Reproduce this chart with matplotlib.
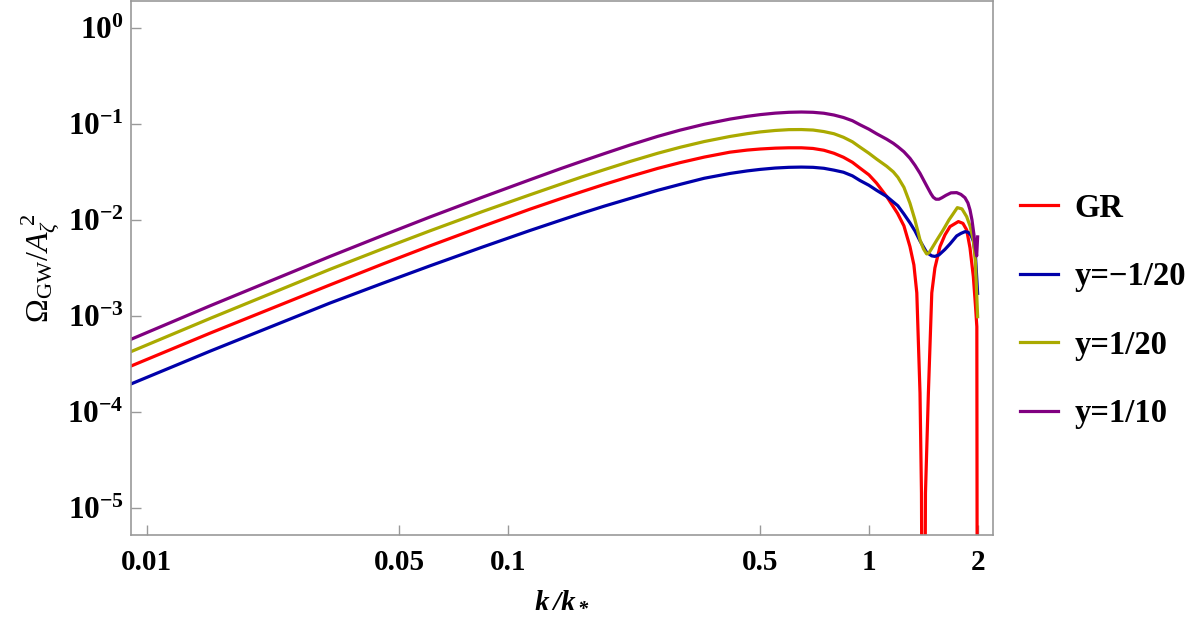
import matplotlib
matplotlib.use("Agg")
from matplotlib import pyplot as plt
from matplotlib import ticker
import numpy as np

plt.rcParams['font.family'] = ['Liberation Serif', 'DejaVu Serif']
plt.rcParams['mathtext.fontset'] = 'custom'
plt.rcParams['mathtext.rm'] = 'Liberation Serif'
plt.rcParams['mathtext.it'] = 'Liberation Serif:italic'
plt.rcParams['mathtext.bf'] = 'Liberation Serif:bold'
plt.rcParams['mathtext.bfit'] = 'Liberation Serif:italic:bold'

# smooth part, shared k grid
k_low = [0.00903, 0.015, 0.0321, 0.045, 0.0608, 0.085, 0.115, 0.14, 0.16, 0.185, 0.218,
         0.26, 0.3, 0.35, 0.412, 0.46, 0.5, 0.55, 0.6, 0.65, 0.7, 0.75, 0.8, 0.85, 0.9, 0.944]

gr_low = [3.01e-4, 6.65e-4, 2.10e-3, 3.47e-3, 5.36e-3, 8.55e-3, 1.29e-2, 1.66e-2, 1.96e-2,
          2.34e-2, 2.83e-2, 3.43e-2, 3.94e-2, 4.50e-2, 5.06e-2, 5.32e-2, 5.46e-2, 5.57e-2,
          5.62e-2, 5.62e-2, 5.53e-2, 5.30e-2, 4.93e-2, 4.48e-2, 3.97e-2, 3.46e-2]
neg20_low = [1.96e-4, 4.32e-4, 1.36e-3, 2.19e-3, 3.32e-3, 5.21e-3, 7.74e-3, 9.91e-3, 1.17e-2,
             1.39e-2, 1.67e-2, 2.03e-2, 2.34e-2, 2.71e-2, 3.04e-2, 3.23e-2, 3.35e-2, 3.46e-2,
             3.52e-2, 3.54e-2, 3.52e-2, 3.44e-2, 3.29e-2, 3.13e-2, 2.87e-2, 2.57e-2]
pos20_low = [4.25e-4, 9.46e-4, 3.05e-3, 5.00e-3, 7.68e-3, 1.22e-2, 1.82e-2, 2.35e-2, 2.79e-2,
             3.33e-2, 4.05e-2, 4.93e-2, 5.69e-2, 6.53e-2, 7.37e-2, 7.88e-2, 8.22e-2, 8.51e-2,
             8.68e-2, 8.70e-2, 8.60e-2, 8.29e-2, 7.87e-2, 7.23e-2, 6.49e-2, 5.72e-2]
pos10_low = [5.71e-4, 1.28e-3, 4.15e-3, 6.88e-3, 1.07e-2, 1.72e-2, 2.61e-2, 3.41e-2, 4.06e-2,
             4.89e-2, 6.01e-2, 7.39e-2, 8.58e-2, 9.88e-2, 1.117e-1, 1.194e-1, 1.244e-1,
             1.289e-1, 1.315e-1, 1.324e-1, 1.315e-1, 1.286e-1, 1.232e-1, 1.161e-1, 1.075e-1,
             9.77e-2]

# oscillating tails, own k grids
gr_k = [1.0, 1.05, 1.12, 1.2, 1.25, 1.299, 1.332, 1.357, 1.385, 1.398, 1.416, 1.434, 1.461,
        1.493, 1.523, 1.573, 1.624, 1.677, 1.769, 1.821, 1.865, 1.905, 1.946, 1.972, 1.99, 2.0]
gr_hi = [2.94e-2, 2.41e-2, 1.75e-2, 1.17e-2, 8.66e-3, 5.27e-3, 3.40e-3, 1.74e-3, 1.58e-4,
         1.43e-5, 1e-10, 1.43e-5, 1.58e-4, 1.74e-3, 3.16e-3, 5.27e-3, 6.98e-3, 8.51e-3,
         9.60e-3, 9.20e-3, 7.87e-3, 5.11e-3, 2.57e-3, 1.30e-3, 7.74e-4, 1e-10]

neg20_k = [1.0, 1.05, 1.12, 1.203, 1.25, 1.299, 1.341, 1.385, 1.445, 1.493, 1.523, 1.563,
           1.624, 1.677, 1.750, 1.798, 1.845, 1.887, 1.917, 1.946, 1.972, 2.0]
neg20_hi = [2.29e-2, 2.03e-2, 1.75e-2, 1.40e-2, 1.15e-2, 9.31e-3, 7.68e-3, 6.04e-3, 4.59e-3,
            4.22e-3, 4.17e-3, 4.32e-3, 4.93e-3, 5.62e-3, 6.81e-3, 7.23e-3, 7.54e-3, 7.41e-3,
            6.90e-3, 6.04e-3, 4.32e-3, 1.72e-3]

pos20_k = [1.0, 1.05, 1.12, 1.168, 1.203, 1.25, 1.299, 1.341, 1.385, 1.416, 1.445, 1.466,
           1.494, 1.543, 1.606, 1.666, 1.704, 1.757, 1.810, 1.865, 1.905, 1.946, 1.972, 2.0]
pos20_hi = [4.93e-2, 4.29e-2, 3.61e-2, 3.16e-2, 2.77e-2, 2.18e-2, 1.49e-2, 1.0e-2, 6.19e-3,
            4.99e-3, 4.42e-3, 4.53e-3, 5.07e-3, 6.19e-3, 7.87e-3, 1.0e-2, 1.13e-2, 1.34e-2,
            1.30e-2, 1.08e-2, 8.66e-3, 6.19e-3, 3.65e-3, 9.84e-4]

pos10_k = [1.0, 1.05, 1.12, 1.168, 1.203, 1.25, 1.299, 1.341, 1.385, 1.445, 1.485, 1.507,
           1.533, 1.563, 1.593, 1.634, 1.687, 1.750, 1.798, 1.845, 1.880, 1.905, 1.929,
           1.954, 1.972, 1.988, 2.0]
pos10_hi = [8.77e-2, 7.87e-2, 6.90e-2, 6.26e-2, 5.76e-2, 5.11e-2, 4.37e-2, 3.70e-2, 3.05e-2,
            2.26e-2, 1.87e-2, 1.72e-2, 1.64e-2, 1.64e-2, 1.70e-2, 1.80e-2, 1.91e-2, 1.92e-2,
            1.84e-2, 1.70e-2, 1.50e-2, 1.27e-2, 1.0e-2, 6.98e-3, 5.11e-3, 4.22e-3, 6.65e-3]

labels = ['GR', 'y=\u22121/20', 'y=1/20', 'y=1/10']
colors = ['#ff0000', '#0000aa', '#aaaa00', '#800080']

x_ticks = [0.01, 0.05, 0.1, 0.5, 1, 2]
x_ticklabels = ['0.01', '0.05', '0.1', '0.5', '1', '2']
y_ticks = [1e0, 1e-1, 1e-2, 1e-3, 1e-4, 1e-5]

fig = plt.figure(figsize=(12, 6.25), dpi=100)
ax = fig.add_axes([0.109, 0.144, 0.7185, 0.854])

series = [(gr_low, gr_k, gr_hi), (neg20_low, neg20_k, neg20_hi),
          (pos20_low, pos20_k, pos20_hi), (pos10_low, pos10_k, pos10_hi)]
for (lo, kk, hi), lab, col in zip(series, labels, colors):
    ax.plot(k_low + kk, lo + hi, color=col, lw=2.3, label=lab,
            solid_joinstyle='round')

ax.set_xscale('log')
ax.set_yscale('log')
ax.set_xlim(0.00903, 2.206)
ax.set_ylim(5.27e-6, 1.88)

ax.xaxis.set_major_locator(ticker.FixedLocator(x_ticks))
ax.xaxis.set_minor_locator(ticker.NullLocator())
ax.set_xticklabels(x_ticklabels)
ax.yaxis.set_major_locator(ticker.FixedLocator(y_ticks))
ax.yaxis.set_minor_locator(ticker.NullLocator())
ax.yaxis.set_major_formatter(ticker.FuncFormatter(
    lambda v, p: r'$\mathbf{10^{%d}}$' % int(round(np.log10(v)))))

for lab in ax.get_xticklabels():
    lab.set_fontweight('bold')
    lab.set_fontsize(21)
for lab in ax.get_yticklabels():
    lab.set_fontsize(22.5)

ax.tick_params(direction='in', length=7, width=1, color='#999999')
ax.tick_params(axis='x', pad=10)
ax.tick_params(axis='y', pad=5)
for s in ax.spines.values():
    s.set_color('#999999')
    s.set_linewidth(1.2)

ax.set_xlabel(r'$\mathbfit{k\,/k_*}$', fontsize=21, labelpad=8)
ax.set_ylabel(r'$\Omega_{\mathrm{GW}}/A_{\zeta}^{\;2}$', fontsize=23, labelpad=4)

leg = ax.legend(loc='center left', bbox_to_anchor=(1.0162, 0.42), frameon=False,
                borderaxespad=0, handlelength=1.17, labelspacing=1.15, handletextpad=0.5,
                prop={'family': 'Liberation Serif', 'weight': 'bold', 'size': 23.5})

fig.savefig('out.png', dpi=100)
